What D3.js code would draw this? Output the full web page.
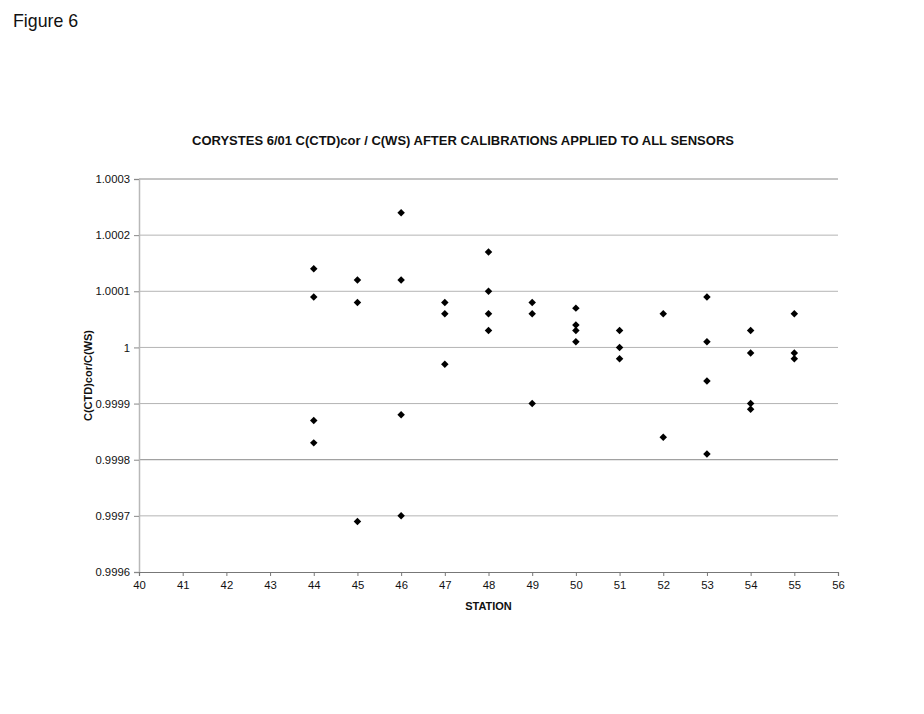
<!DOCTYPE html>
<html><head><meta charset="utf-8">
<script src="https://cdn.jsdelivr.net/npm/d3@7"></script>
<style>body{margin:0;background:#fff}svg{display:block}text{font-family:"Liberation Sans",Arial,sans-serif}</style>
</head><body><svg id="c" width="924" height="714"></svg>
<script>
const stations = [44,44,44,44, 45,45,45, 46,46,46,46, 47,47,47, 48,48,48,48, 49,49,49, 50,50,50,50, 51,51,51, 52,52, 53,53,53,53, 54,54,54,54, 55,55,55];
const ratios = [1.00014,1.00009,0.99987,0.99983, 1.00012,1.00008,0.99969, 1.00024,1.00012,0.99988,0.99970, 1.00008,1.00006,0.99997, 1.00017,1.00010,1.00006,1.00003, 1.00008,1.00006,0.99990, 1.00007,1.00004,1.00003,1.00001, 1.00003,1.00000,0.99998, 1.00006,0.99984, 1.00009,1.00001,0.99994,0.99981, 1.00003,0.99999,0.99990,0.99989, 1.00006,0.99999,0.99998];
const xTicks = d3.range(40,57,1);
const yTicks = [0.9996,0.9997,0.9998,0.9999,1.0,1.0001,1.0002,1.0003];
const yTickLabels = ["0.9996","0.9997","0.9998","0.9999","1","1.0001","1.0002","1.0003"];
const title = "CORYSTES 6/01 C(CTD)cor / C(WS) AFTER CALIBRATIONS APPLIED TO ALL SENSORS";

const svg = d3.select("#c");
const L=139, R=838, T=179, B=572;
const x = d3.scaleLinear().domain([40,56]).range([L,R]);
const y = d3.scaleLinear().domain([0.9996,1.0003]).range([B,T]);

svg.append("text").attr("x",13).attr("y",27).attr("font-size",17.8).attr("fill","#111").text("Figure 6");
svg.append("text").attr("x",463).attr("y",145).attr("text-anchor","middle").attr("font-size",13).attr("font-weight","bold").attr("fill","#111").text(title);

// gridlines
svg.append("g").selectAll("line").data(yTicks.slice(1)).join("line")
  .attr("x1",L).attr("x2",R).attr("y1",d=>y(d)).attr("y2",d=>y(d))
  .attr("stroke",(d,i)=> (i===1||i===6)?"#8a8a8a":"#b4b4b4").attr("stroke-width",1);

// y axis
const ya = svg.append("g").attr("transform",`translate(${L},0)`)
  .call(d3.axisLeft(y).tickValues(yTicks).tickFormat((d,i)=>yTickLabels[i]).tickSize(5).tickPadding(4));
ya.select(".domain").attr("stroke","#b8b8b8").attr("stroke-width",1.5);
ya.selectAll(".tick line").attr("stroke","#888");
ya.selectAll("text").attr("font-size",11.3).attr("fill","#111").attr("font-family","Liberation Sans, Arial, sans-serif");

// x axis
const xa = svg.append("g").attr("transform",`translate(0,${B})`)
  .call(d3.axisBottom(x).tickValues(xTicks).tickFormat(d3.format("d")).tickSize(4).tickPadding(5));
xa.select(".domain").attr("stroke","#777").attr("stroke-width",1.2);
xa.selectAll(".tick line").attr("stroke","#777");
xa.selectAll("text").attr("font-size",11.3).attr("fill","#111").attr("font-family","Liberation Sans, Arial, sans-serif");

svg.append("text").attr("x",(L+R)/2).attr("y",610).attr("text-anchor","middle").attr("font-size",11).attr("font-weight","bold").attr("fill","#111").text("STATION");
svg.append("text").attr("transform",`translate(92,${(T+B)/2}) rotate(-90)`).attr("text-anchor","middle").attr("font-size",11).attr("font-weight","bold").attr("fill","#111").text("C(CTD)cor/C(WS)");

// points
svg.append("g").selectAll("path").data(stations.map((s,i)=>[s,ratios[i]])).join("path")
  .attr("d",d3.symbol(d3.symbolSquare,28)())
  .attr("transform",d=>`translate(${x(d[0])},${y(d[1])}) rotate(45)`)
  .attr("fill","#000");
</script></body></html>
